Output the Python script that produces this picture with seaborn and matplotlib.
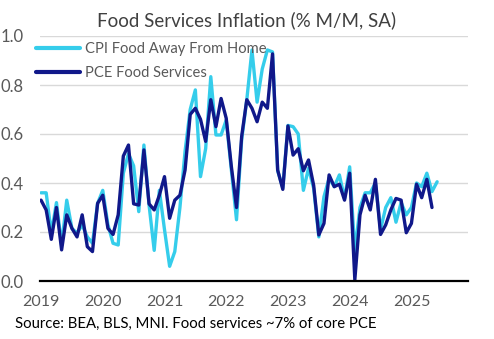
import matplotlib
matplotlib.use("Agg")
import matplotlib.pyplot as plt
import seaborn as sns
import pandas as pd

# Monthly % change, seasonally adjusted, starting January 2019
cpi_food_away = [
    0.36, 0.36, 0.195, 0.32, 0.147, 0.33, 0.215, 0.195, 0.229, 0.18, 0.154, 0.317,   # 2019
    0.37, 0.23, 0.154, 0.147, 0.44, 0.52, 0.47, 0.283, 0.555, 0.31, 0.125, 0.37,     # 2020
    0.21, 0.06, 0.12, 0.30, 0.53, 0.70, 0.78, 0.426, 0.54, 0.834, 0.596, 0.596,      # 2021
    0.657, 0.453, 0.25, 0.576, 0.74, 0.943, 0.73, 0.865, 0.943, 0.935, 0.45, 0.38,   # 2022
    0.635, 0.63, 0.60, 0.37, 0.46, 0.378, 0.18, 0.344, 0.42, 0.385, 0.433, 0.337,    # 2023
    0.466, 0.12, 0.30, 0.36, 0.36, 0.40, 0.21, 0.30, 0.34, 0.24, 0.32, 0.27,         # 2024
    0.30, 0.40, 0.385, 0.44, 0.365, 0.405,                                            # 2025
]
pce_food_services = [
    0.33, 0.29, 0.17, 0.30, 0.127, 0.27, 0.215, 0.18, 0.27, 0.14, 0.12, 0.317,       # 2019
    0.35, 0.215, 0.19, 0.27, 0.51, 0.555, 0.315, 0.31, 0.535, 0.315, 0.29, 0.35,     # 2020
    0.426, 0.256, 0.33, 0.35, 0.453, 0.68, 0.705, 0.66, 0.57, 0.74, 0.63, 0.745,     # 2021
    0.664, 0.467, 0.30, 0.59, 0.74, 0.705, 0.65, 0.73, 0.705, 0.927, 0.453, 0.374,   # 2022
    0.633, 0.514, 0.54, 0.45, 0.494, 0.39, 0.188, 0.235, 0.433, 0.385, 0.395, 0.33,  # 2023
    0.44, 0.005, 0.27, 0.35, 0.29, 0.415, 0.19, 0.229, 0.29, 0.337, 0.33, 0.197,     # 2024
    0.235, 0.395, 0.34, 0.415, 0.30,                                                  # 2025
]
year_labels = ["2019", "2020", "2021", "2022", "2023", "2024", "2025"]
series_names = ["CPI Food Away From Home", "PCE Food Services"]

df = pd.concat([
    pd.DataFrame({"month": range(len(cpi_food_away)), "value": cpi_food_away,
                  "series": series_names[0]}),
    pd.DataFrame({"month": range(len(pce_food_services)), "value": pce_food_services,
                  "series": series_names[1]}),
], ignore_index=True)

sns.set_style("white")
plt.rcParams["font.family"] = ["Lato", "DejaVu Sans"]

text_grey = "#595959"
palette = {series_names[0]: "#35CDEB", series_names[1]: "#10188A"}

fig = plt.figure(figsize=(4.94, 3.39), dpi=100)
ax = fig.add_axes([40 / 494, 1 - 281 / 339, 428 / 494, 245 / 339])

sns.lineplot(data=df, x="month", y="value", hue="series", hue_order=series_names,
             palette=palette, linewidth=2.4, ax=ax)

ax.set_ylim(0, 1.0)
ax.set_xlim(-0.2, 83)
ax.set_yticks([0.0, 0.2, 0.4, 0.6, 0.8, 1.0])
ax.set_yticklabels([f"{v:.1f}" for v in [0.0, 0.2, 0.4, 0.6, 0.8, 1.0]])
ax.set_xticks([12 * k for k in range(len(year_labels))])
ax.set_xticklabels(year_labels)
ax.set_xlabel("")
ax.set_ylabel("")

ax.grid(axis="y", color="#d9d9d9", linewidth=1.0)
ax.grid(axis="x", visible=False)
ax.set_axisbelow(True)
for side in ("top", "right", "left"):
    ax.spines[side].set_visible(False)
ax.spines["bottom"].set_color("black")
ax.spines["bottom"].set_linewidth(1.6)
ax.spines["bottom"].set_zorder(5)

ax.tick_params(axis="both", length=0, labelsize=12, labelcolor=text_grey)
ax.tick_params(axis="x", pad=10, labelsize=11.5)
ax.tick_params(axis="y", pad=12)

leg = ax.legend(loc="upper left", bbox_to_anchor=(36 / 494, 1 - 42 / 339),
                bbox_transform=fig.transFigure, frameon=False, fontsize=10.6,
                handlelength=3.0, handletextpad=0.3, labelspacing=0.7,
                borderpad=0, borderaxespad=0)
for t in leg.get_texts():
    t.set_color(text_grey)
for line in leg.get_lines():
    line.set_linewidth(3.0)

fig.text(0.5, 1 - 20 / 339, "Food Services Inflation (% M/M, SA)", ha="center",
         va="center", fontsize=13.5, color="#404040")
fig.text(15 / 494, 1 - 324 / 339, "Source: BEA, BLS, MNI. Food services ~7% of core PCE",
         ha="left", va="center", fontsize=10.7, color="black")

fig.savefig("out.png", dpi=100)
